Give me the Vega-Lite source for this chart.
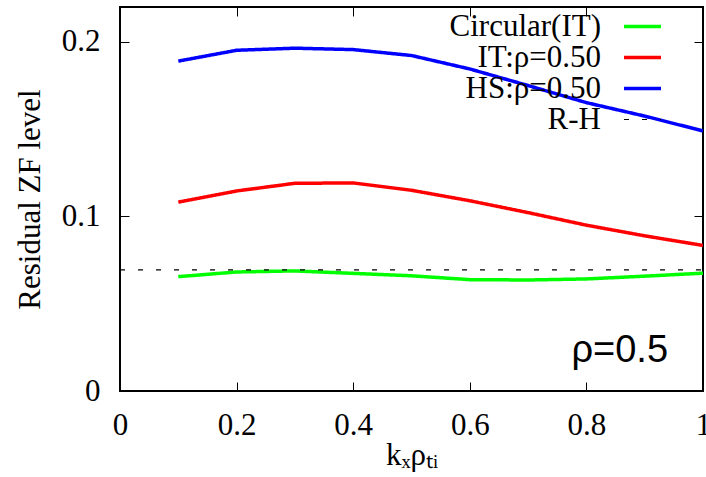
{
  "$schema": "https://vega.github.io/schema/vega-lite/v6.json",
  "width": 583,
  "height": 384,
  "autosize": {"type": "none"},
  "padding": {"left": 120, "top": 7, "right": 3, "bottom": 86},
  "background": "white",
  "config": {
    "view": {"stroke": "black", "strokeWidth": 2},
    "font": "Liberation Serif",
    "axis": {
      "domain": false,
      "grid": false,
      "tickColor": "black",
      "tickWidth": 1,
      "tickSize": -9,
      "labelFlush": false,
      "labelOverlap": false,
      "labelFont": "Liberation Serif",
      "labelFontSize": 31,
      "labelColor": "black",
      "titleFont": "Liberation Serif",
      "titleFontSize": 31,
      "titleFontWeight": "normal",
      "titleColor": "black"
    },
    "legend": {
      "orient": "none",
      "legendX": 507,
      "legendY": 4,
      "labelFont": "Liberation Serif",
      "labelFontSize": 31,
      "labelColor": "black",
      "labelAlign": "right",
      "labelOffset": -57,
      "labelLimit": 400,
      "symbolType": "stroke",
      "symbolSize": 1369,
      "rowPadding": -2.3,
      "title": null
    }
  },
  "datasets": {
    "curves": [
      {"k": 0.1, "zf": 0.0655, "series": "Circular(IT)"},
      {"k": 0.2, "zf": 0.0682, "series": "Circular(IT)"},
      {"k": 0.3, "zf": 0.0688, "series": "Circular(IT)"},
      {"k": 0.4, "zf": 0.0674, "series": "Circular(IT)"},
      {"k": 0.5, "zf": 0.0660, "series": "Circular(IT)"},
      {"k": 0.6, "zf": 0.0638, "series": "Circular(IT)"},
      {"k": 0.7, "zf": 0.0636, "series": "Circular(IT)"},
      {"k": 0.8, "zf": 0.0642, "series": "Circular(IT)"},
      {"k": 0.9, "zf": 0.0658, "series": "Circular(IT)"},
      {"k": 1.0, "zf": 0.0675, "series": "Circular(IT)"},
      {"k": 0.1, "zf": 0.1082, "series": "IT:ρ=0.50"},
      {"k": 0.2, "zf": 0.1146, "series": "IT:ρ=0.50"},
      {"k": 0.3, "zf": 0.1190, "series": "IT:ρ=0.50"},
      {"k": 0.4, "zf": 0.1192, "series": "IT:ρ=0.50"},
      {"k": 0.5, "zf": 0.1150, "series": "IT:ρ=0.50"},
      {"k": 0.6, "zf": 0.1090, "series": "IT:ρ=0.50"},
      {"k": 0.7, "zf": 0.1022, "series": "IT:ρ=0.50"},
      {"k": 0.8, "zf": 0.0950, "series": "IT:ρ=0.50"},
      {"k": 0.9, "zf": 0.0889, "series": "IT:ρ=0.50"},
      {"k": 1.0, "zf": 0.0834, "series": "IT:ρ=0.50"},
      {"k": 0.1, "zf": 0.1890, "series": "HS:ρ=0.50"},
      {"k": 0.2, "zf": 0.1952, "series": "HS:ρ=0.50"},
      {"k": 0.3, "zf": 0.1964, "series": "HS:ρ=0.50"},
      {"k": 0.4, "zf": 0.1956, "series": "HS:ρ=0.50"},
      {"k": 0.5, "zf": 0.1922, "series": "HS:ρ=0.50"},
      {"k": 0.6, "zf": 0.1845, "series": "HS:ρ=0.50"},
      {"k": 0.7, "zf": 0.1750, "series": "HS:ρ=0.50"},
      {"k": 0.8, "zf": 0.1652, "series": "HS:ρ=0.50"},
      {"k": 0.9, "zf": 0.1575, "series": "HS:ρ=0.50"},
      {"k": 1.0, "zf": 0.1490, "series": "HS:ρ=0.50"},
      {"k": 0.0, "zf": 0.0694, "series": "R-H"},
      {"k": 1.0, "zf": 0.0694, "series": "R-H"}
    ],
    "note": [
      {"k": 0.94, "zf": 0.0167, "text": "ρ=0.5"}
    ]
  },
  "layer": [
    {
      "data": {"name": "curves"},
      "mark": {"type": "line", "clip": true},
      "encoding": {
        "x": {
          "field": "k", "type": "quantitative",
          "scale": {"domain": [0, 1], "nice": false, "zero": false},
          "axis": {"orient": "bottom", "values": [0, 0.2, 0.4, 0.6, 0.8, 1], "format": "~g", "title": "kₓρₜᵢ", "labelPadding": 28, "titlePadding": 0}
        },
        "y": {
          "field": "zf", "type": "quantitative",
          "scale": {"domain": [0, 0.22], "nice": false},
          "axis": {"orient": "left", "values": [0, 0.1, 0.2], "format": "~g", "title": "Residual ZF level", "labelPadding": 29, "titlePadding": 15}
        },
        "color": {
          "field": "series", "type": "nominal",
          "scale": {"domain": ["Circular(IT)", "IT:ρ=0.50", "HS:ρ=0.50", "R-H"], "range": ["#00ff00", "#ff0000", "#0000ff", "#000000"]},
          "legend": {
            "encode": {
              "symbols": {"update": {"strokeWidth": {"signal": "datum.value === 'R-H' ? 1.2 : 3.5"}}}
            }
          }
        },
        "strokeDash": {
          "field": "series", "type": "nominal",
          "scale": {"domain": ["Circular(IT)", "IT:ρ=0.50", "HS:ρ=0.50", "R-H"], "range": [[1, 0], [1, 0], [1, 0], [5, 13]]}
        },
        "strokeWidth": {
          "condition": {"test": "datum.series === 'R-H'", "value": 1.2},
          "value": 3.5
        },
        "order": {"field": "k", "type": "quantitative"}
      }
    },
    {
      "data": {"name": "note"},
      "mark": {"type": "text", "font": "Liberation Sans", "fontSize": 38, "align": "right", "baseline": "alphabetic", "color": "black"},
      "encoding": {
        "x": {"field": "k", "type": "quantitative", "axis": {"orient": "top", "values": [0, 0.2, 0.4, 0.6, 0.8, 1], "labels": false, "title": null}},
        "y": {"field": "zf", "type": "quantitative", "axis": {"orient": "right", "values": [0, 0.1, 0.2], "labels": false, "title": null}},
        "text": {"field": "text"}
      }
    }
  ],
  "resolve": {"axis": {"x": "independent", "y": "independent"}}
}
